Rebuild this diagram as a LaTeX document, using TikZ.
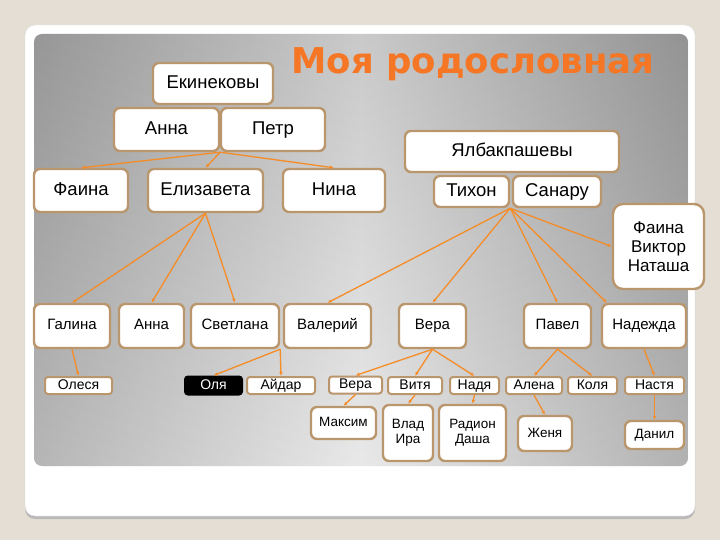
\documentclass[tikz,border=0pt]{standalone}
\usepackage{fontspec}
\setmainfont{Liberation Sans}
\newfontfamily\titlefont{DejaVu Sans}
\usetikzlibrary{arrows.meta}
\definecolor{pagebg}{RGB}{228,222,212}
\definecolor{panell}{RGB}{172,172,172}
\definecolor{panelm}{RGB}{230,230,230}
\definecolor{panelr}{RGB}{168,168,168}
\definecolor{boxrim}{RGB}{186,150,108}
\definecolor{linkorange}{RGB}{245,140,40}
\definecolor{titleorange}{RGB}{245,118,36}
\tikzset{
  box/.style={draw=boxrim, line width=2.4pt, fill=white, rounded corners=6pt,
    inner sep=0pt, align=center},
  person/.style={box, font=\fontsize{18.5}{20}\selectfont, text height=13.5pt, text depth=4pt},
  child/.style={box, font=\fontsize{15}{17}\selectfont, text height=11pt, text depth=3.5pt},
  tiny/.style={box, line width=2pt, rounded corners=3pt, font=\fontsize{14}{15}\selectfont,
    text height=10pt, text depth=3pt},
  grand/.style={box, font=\fontsize{13.5}{15}\selectfont},
  link/.style={draw=linkorange, line width=1.3pt, -{Latex[length=4pt,width=3.5pt]}},
}
\begin{document}
\begin{tikzpicture}[x=1pt,y=-1pt]
  \useasboundingbox (0,0) rectangle (720,540);
  \fill[pagebg] (0,0) rectangle (720,540);
  % slide card and grey panel
  \fill[gray!55, rounded corners=10pt] (25,28) rectangle (695,519);
  \filldraw[draw=gray!30, fill=white, rounded corners=10pt] (25,25) rectangle (695,516);
  \shade[left color=panell, right color=panelr, middle color=panelm, rounded corners=8pt] (34,34) rectangle (688,466);
  \shade[top color=black, bottom color=white, opacity=0.12, rounded corners=8pt] (34,34) rectangle (688,466);
  \node[font=\titlefont\fontsize{35.5}{40}\selectfont\bfseries, text=titleorange, anchor=base] (title) at (473,73.5) {Моя родословная};

  % first family
  \node[person, minimum width=120, minimum height=41] (ekin) at (213,83.5) {Екинековы};
  \node[person, minimum width=105, minimum height=43] (anna) at (166.5,129.5) {Анна};
  \node[person, minimum width=104, minimum height=43] (petr) at (273,129.5) {Петр};
  \node[person, minimum width=94, minimum height=43] (faina) at (81,190.5) {Фаина};
  \node[person, minimum width=115, minimum height=43] (eliz) at (205.5,190.5) {Елизавета};
  \node[person, minimum width=102, minimum height=43] (nina) at (334,190.5) {Нина};

  % second family
  \node[person, minimum width=214, minimum height=41] (yalb) at (512,151.5) {Ялбакпашевы};
  \node[person, minimum width=75, minimum height=31] (tikhon) at (471.5,191.5) {Тихон};
  \node[person, minimum width=88, minimum height=31] (sanaru) at (557,191.5) {Санару};
  \node[box, minimum width=91, minimum height=85, rounded corners=10pt,
        font=\fontsize{17}{19}\selectfont] (fvn) at (658.5,246.5) {Фаина\\Виктор\\Наташа};

  % children
  \node[child, minimum width=76, minimum height=44] (galina) at (72,326) {Галина};
  \node[child, minimum width=65, minimum height=44] (anna2) at (151.5,326) {Анна};
  \node[child, minimum width=88, minimum height=44] (svetlana) at (235,326) {Светлана};
  \node[child, minimum width=87, minimum height=44] (valery) at (327.5,326) {Валерий};
  \node[child, minimum width=67, minimum height=44] (vera) at (432.5,326) {Вера};
  \node[child, minimum width=67, minimum height=44] (pavel) at (557.5,326) {Павел};
  \node[child, minimum width=84, minimum height=44] (nadezhda) at (644,326) {Надежда};

  % grandchildren
  \node[tiny, minimum width=67, minimum height=17] (olesya) at (78.5,385.5) {Олеся};
  \node[tiny, draw=black, fill=black, text=white, minimum width=57, minimum height=18] (olya) at (213.5,385.5) {Оля};
  \node[tiny, minimum width=68, minimum height=17] (aidar) at (281,385.5) {Айдар};
  \node[tiny, minimum width=53, minimum height=17] (vera2) at (355.5,385) {Вера};
  \node[tiny, minimum width=54, minimum height=17] (vitya) at (415,385.5) {Витя};
  \node[tiny, minimum width=49, minimum height=17] (nadya) at (474.5,385.5) {Надя};
  \node[tiny, minimum width=56, minimum height=17] (alena) at (534,385.5) {Алена};
  \node[tiny, minimum width=49, minimum height=17] (kolya) at (592.5,385.5) {Коля};
  \node[tiny, minimum width=59, minimum height=17] (nastya) at (654.5,385.5) {Настя};

  \node[grand, minimum width=65, minimum height=32, text height=10pt, text depth=3pt] (maksim) at (343.5,423) {Максим};
  \node[grand, minimum width=50, minimum height=56] (vladira) at (408,433) {Влад\\Ира};
  \node[grand, minimum width=67, minimum height=56] (radion) at (472.5,433) {Радион\\Даша};
  \node[grand, minimum width=54, minimum height=35, text height=10pt, text depth=3pt] (zhenya) at (545,433.5) {Женя};
  \node[grand, minimum width=59, minimum height=28, text height=10pt, text depth=3pt] (danil) at (654.5,435) {Данил};

  % connectors
  \foreach \t in {faina,eliz,nina} \draw[link] (anna.south east) -- (\t.north);
  \foreach \t in {galina,anna2,svetlana} \draw[link] (eliz.south) -- (\t.north);
  \foreach \t in {valery,vera,pavel} \draw[link] (tikhon.south east) -- (\t.north);
  \draw[link] (tikhon.south east) -- ([xshift=6pt]nadezhda.north west);
  \draw[link] (tikhon.south east) -- (fvn.west);
  \foreach \t in {olya,aidar} \draw[link] (svetlana.south east) -- (\t.north);
  \foreach \t in {vera2,vitya,nadya} \draw[link] (vera.south) -- (\t.north);
  \foreach \t in {alena,kolya} \draw[link] (pavel.south) -- (\t.north);
  \foreach \a/\b in {galina/olesya,nadezhda/nastya,vera2/maksim,vitya/vladira,nadya/radion,alena/zhenya,nastya/danil}
    \draw[link] (\a.south) -- (\b.north);
\end{tikzpicture}
\end{document}
